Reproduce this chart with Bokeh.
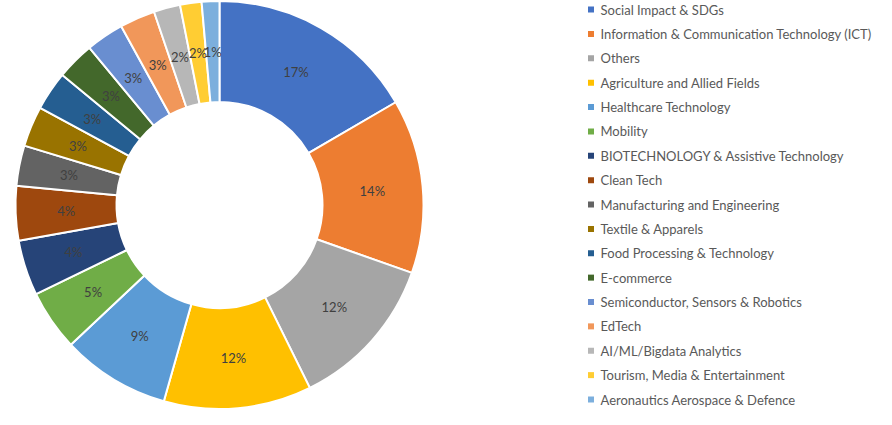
import math
from bokeh.plotting import figure
from bokeh.models import Range1d, ColumnDataSource
from bokeh.core.properties import value
from bokeh.embed import file_html
from bokeh.resources import INLINE

categories = [
    "Social Impact & SDGs",
    "Information & Communication Technology (ICT)",
    "Others",
    "Agriculture and Allied Fields",
    "Healthcare Technology",
    "Mobility",
    "BIOTECHNOLOGY & Assistive Technology",
    "Clean Tech",
    "Manufacturing and Engineering",
    "Textile & Apparels",
    "Food Processing & Technology",
    "E-commerce",
    "Semiconductor, Sensors & Robotics",
    "EdTech",
    "AI/ML/Bigdata Analytics",
    "Tourism, Media & Entertainment",
    "Aeronautics Aerospace & Defence",
]
shares = [16.6, 13.8, 12.3, 11.7, 8.6, 4.8, 4.4, 4.3, 3.2, 3.2, 3.1, 3.0, 3.0, 2.8, 2.1, 1.7, 1.4]
colors = ["#4472C4", "#ED7D31", "#A5A5A5", "#FFC000", "#5B9BD5", "#70AD47",
          "#264478", "#9E480E", "#636363", "#997300", "#255E91", "#43682B",
          "#698ED0", "#F1975A", "#B7B7B7", "#FFCD33", "#7CAFDD"]

W, H = 876, 409
CX, CY = 219, 204.5
R_OUT, R_IN = 204, 103

total = sum(shares)
starts, ends, lx, ly, labels = [], [], [], [], []
cum = 0.0
for v in shares:
    a0 = math.pi / 2 - 2 * math.pi * cum / total
    cum += v
    a1 = math.pi / 2 - 2 * math.pi * cum / total
    starts.append(a1)
    ends.append(a0)
    mid = (a0 + a1) / 2
    rm = (R_OUT + R_IN) / 2
    lx.append(CX + rm * math.cos(mid))
    ly.append(CY + rm * math.sin(mid))
    labels.append(f"{round(100 * v / total)}%")

src = ColumnDataSource(dict(start=starts, end=ends, color=colors, lx=lx, ly=ly,
                            label=labels, cat=categories))

p = figure(width=W, height=H, output_backend="svg", toolbar_location=None,
           x_range=Range1d(0, W), y_range=Range1d(0, H), min_border=0)
p.axis.visible = False
p.grid.visible = False
p.outline_line_color = None

p.annular_wedge(x=CX, y=CY, inner_radius=R_IN, outer_radius=R_OUT,
                start_angle="start", end_angle="end", fill_color="color",
                line_color="white", line_width=2, source=src)

p.text(x="lx", y="ly", text="label", source=src, text_align="center",
       text_baseline="middle", text_font=value("Lato"), text_font_size="13px",
       text_color="#404040")

# legend
n = len(categories)
top_y, bot_y = H - 9, 10
step = (top_y - bot_y) / (n - 1)
leg_y = [top_y - i * step for i in range(n)]
leg_src = ColumnDataSource(dict(x=[590.5] * n, tx=[600] * n, y=leg_y,
                                color=colors, cat=categories))
p.scatter(x="x", y="y", marker="square", size=6, fill_color="color",
          line_color=None, source=leg_src)
p.text(x="tx", y="y", text="cat", source=leg_src, text_align="left",
       text_baseline="middle", text_font=value("Lato"), text_font_size="13px",
       text_color="#595959")

open("out.html", "w").write(file_html(p, INLINE))
